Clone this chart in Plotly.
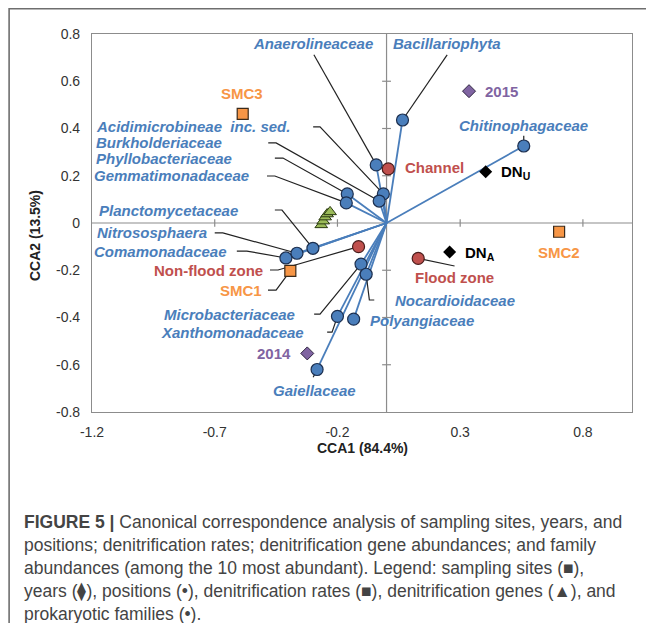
import plotly.graph_objects as go

# ---------------- data ----------------
families = ["Anaerolineaceae", "Bacillariophyta", "Chitinophagaceae",
            "Acidimicrobineae  inc. sed.", "Burkholderiaceae", "Phyllobacteriaceae",
            "Gemmatimonadaceae", "Planctomycetaceae", "Nitrososphaera",
            "Comamonadaceae", "Microbacteriaceae", "Xanthomonadaceae",
            "Nocardioidaceae", "Polyangiaceae", "Gaiellaceae"]
fam_x = [-0.042, 0.065, 0.559, -0.013, -0.030, -0.160, -0.164, -0.300, -0.365,
         -0.410, -0.104, -0.200, -0.083, -0.134, -0.283]
fam_y = [0.246, 0.436, 0.326, 0.123, 0.093, 0.123, 0.085, -0.107, -0.128,
         -0.148, -0.174, -0.395, -0.217, -0.407, -0.620]

sites = ["SMC1", "SMC2", "SMC3"]
site_x = [-0.392, 0.703, -0.586]
site_y = [-0.203, -0.037, 0.462]

years = ["2014", "2015"]
year_x = [-0.323, 0.336]
year_y = [-0.552, 0.558]

positions = ["Channel", "Non-flood zone", "Flood zone"]
pos_x = [0.007, -0.114, 0.129]
pos_y = [0.229, -0.100, -0.150]

rates = ["DN<sub>U</sub>", "DN<sub>A</sub>"]
rate_x = [0.404, 0.257]
rate_y = [0.217, -0.123]

genes = ["gene 1", "gene 2", "gene 3", "gene 4", "gene 5"]
gene_x = [-0.266, -0.258, -0.250, -0.242, -0.230]
gene_y = [-0.008, 0.008, 0.025, 0.038, 0.047]

x_ticks = [-1.2, -0.7, -0.2, 0.3, 0.8]
y_ticks = [-0.8, -0.6, -0.4, -0.2, 0, 0.2, 0.4, 0.6, 0.8]

x_title = "CCA1 (84.4%)"
y_title = "CCA2 (13.5%)"

caption_lines = [
    "<b>FIGURE 5 |</b> Canonical correspondence analysis of sampling sites, years, and",
    "positions; denitrification rates; denitrification gene abundances; and family",
    "abundances (among the 10 most abundant). Legend: sampling sites (\u25a0),",
    "years (\u29eb), positions (\u2022), denitrification rates (\u25a0), denitrification genes (\u25b2), and",
    "prokaryotic families (\u2022).",
]

# ---------------- label layout (text position, anchor, leader elbows) ----------------
fam_labels = {
    "Anaerolineaceae": (-0.300, 0.758, "center", [(-0.296, 0.712)]),
    "Bacillariophyta": (0.248, 0.758, "center", [(0.247, 0.712)]),
    "Chitinophagaceae": (0.559, 0.411, "center", [(0.559, 0.369)]),
    "Acidimicrobineae  inc. sed.": (-0.385, 0.407, "right", [(-0.299, 0.407), (-0.271, 0.407)]),
    "Burkholderiaceae": (-0.663, 0.339, "right", [(-0.482, 0.339), (-0.450, 0.339)]),
    "Phyllobacteriaceae": (-0.622, 0.271, "right", [(-0.455, 0.275), (-0.422, 0.275)]),
    "Gemmatimonadaceae": (-0.552, 0.199, "right", [(-0.487, 0.199), (-0.455, 0.199)]),
    "Planctomycetaceae": (-0.597, 0.051, "right", [(-0.455, 0.055), (-0.426, 0.055)]),
    "Nitrososphaera": (-0.724, -0.042, "right", [(-0.700, -0.042), (-0.667, -0.042)]),
    "Comamonadaceae": (-0.642, -0.119, "right", [(-0.610, -0.119), (-0.569, -0.119)]),
    "Microbacteriaceae": (-0.365, -0.386, "right", [(-0.295, -0.386), (-0.271, -0.386)]),
    "Xanthomonadaceae": (-0.328, -0.462, "right", [(-0.242, -0.462), (-0.222, -0.462)]),
    "Nocardioidaceae": (0.027, -0.326, "left", [(-0.050, -0.326), (-0.070, -0.326)]),
    "Polyangiaceae": (-0.074, -0.411, "left", []),
    "Gaiellaceae": (-0.295, -0.708, "center", [(-0.299, -0.653)]),
}
site_labels = {
    "SMC1": (-0.499, -0.284, "right", [(-0.483, -0.284), (-0.450, -0.284)]),
    "SMC2": (0.702, -0.123, "center", []),
    "SMC3": (-0.589, 0.547, "center", []),
}
year_labels = {
    "2014": (-0.381, -0.551, "right", []),
    "2015": (0.391, 0.555, "left", []),
}
pos_labels = {
    "Channel": (0.065, 0.233, "left", []),
    "Non-flood zone": (-0.495, -0.203, "right", [(-0.475, -0.199), (-0.442, -0.199)]),
    "Flood zone": (0.277, -0.229, "center", [(0.277, -0.182)]),
}
rate_labels = {
    "DN<sub>U</sub>": (0.460, 0.212, "left", []),
    "DN<sub>A</sub>": (0.313, -0.127, "left", []),
}

BLUE = "#4a7ebb"
RED = "#c0504d"
ORANGE = "#f79646"
PURPLE = "#8064a2"
GREEN = "#9bbb59"
FONT = "Liberation Sans, Arial, sans-serif"
LABEL_SIZE = 15

fig = go.Figure()

# vectors from origin to families
vx, vy = [], []
for x, y in zip(fam_x, fam_y):
    vx += [0, x, None]
    vy += [0, y, None]
fig.add_trace(go.Scatter(x=vx, y=vy, mode="lines", line=dict(color=BLUE, width=1.8),
                         hoverinfo="skip", showlegend=False))

# leader lines
def add_leaders(names, xs, ys, layout):
    lx, ly = [], []
    for n, x, y in zip(names, xs, ys):
        pts = layout[n][3]
        if not pts:
            continue
        for px, py in pts:
            lx.append(px)
            ly.append(py)
        lx += [x, None]
        ly += [y, None]
    fig.add_trace(go.Scatter(x=lx, y=ly, mode="lines", line=dict(color="#222", width=1.2),
                             hoverinfo="skip", showlegend=False))

add_leaders(families, fam_x, fam_y, fam_labels)
add_leaders(sites, site_x, site_y, site_labels)
add_leaders(positions, pos_x, pos_y, pos_labels)

# markers
fig.add_trace(go.Scatter(x=gene_x, y=gene_y, mode="markers", text=genes,
                         marker=dict(symbol="triangle-up", size=11, color=GREEN,
                                     line=dict(color="#2b3a12", width=1)),
                         showlegend=False))
fig.add_trace(go.Scatter(x=fam_x, y=fam_y, mode="markers", text=families,
                         marker=dict(symbol="circle", size=12, color=BLUE,
                                     line=dict(color="#1c2f4f", width=1.2)),
                         showlegend=False))
fig.add_trace(go.Scatter(x=pos_x, y=pos_y, mode="markers", text=positions,
                         marker=dict(symbol="circle", size=12, color=RED,
                                     line=dict(color="#4a1c1b", width=1.2)),
                         showlegend=False))
fig.add_trace(go.Scatter(x=site_x, y=site_y, mode="markers", text=sites,
                         marker=dict(symbol="square", size=11, color=ORANGE,
                                     line=dict(color="#3a2a1a", width=1.2)),
                         showlegend=False))
fig.add_trace(go.Scatter(x=year_x, y=year_y, mode="markers", text=years,
                         marker=dict(symbol="diamond", size=10, color=PURPLE,
                                     line=dict(color="#2e2340", width=1)),
                         showlegend=False))
fig.add_trace(go.Scatter(x=rate_x, y=rate_y, mode="markers", text=rates,
                         marker=dict(symbol="diamond", size=10, color="#000"),
                         showlegend=False))

# text labels
def add_labels(names, layout, color, italic):
    for n in names:
        tx, ty, anchor, _ = layout[n]
        t = f"<b><i>{n}</i></b>" if italic else f"<b>{n}</b>"
        fig.add_annotation(x=tx, y=ty, text=t, showarrow=False, xanchor=anchor,
                           yanchor="middle", font=dict(family=FONT, size=LABEL_SIZE, color=color))

add_labels(families, fam_labels, BLUE, True)
add_labels(sites, site_labels, ORANGE, False)
add_labels(years, year_labels, PURPLE, False)
add_labels(positions, pos_labels, RED, False)
add_labels(rates, rate_labels, "#000", False)

# axis titles
fig.add_annotation(xref="paper", yref="paper", x=0.5, y=-0.095, text=f"<b>{x_title}</b>",
                   showarrow=False, xanchor="center", yanchor="middle",
                   font=dict(family=FONT, size=14, color="#222"))
fig.add_annotation(xref="paper", yref="paper", x=-0.1056, y=0.468, text=f"<b>{y_title}</b>",
                   showarrow=False, textangle=-90, xanchor="center", yanchor="middle",
                   font=dict(family=FONT, size=14, color="#222"))

# zero lines with cross tick marks
GRAY = "#8c8c8c"
shapes = [
    dict(type="line", x0=-1.2, x1=1.0, y0=0, y1=0, line=dict(color=GRAY, width=1.2), layer="below"),
    dict(type="line", x0=0, x1=0, y0=-0.8, y1=0.8, line=dict(color=GRAY, width=1.2), layer="below"),
]
for t in x_ticks[1:]:
    shapes.append(dict(type="line", x0=t, x1=t, y0=-0.016, y1=0.016,
                       line=dict(color=GRAY, width=1.2), layer="below"))
for t in y_ticks[1:-1]:
    if t == 0:
        continue
    shapes.append(dict(type="line", x0=-0.018, x1=0.018, y0=t, y1=t,
                       line=dict(color=GRAY, width=1.2), layer="below"))
# outer figure frame (left and top edges of the page frame)
shapes.append(dict(type="rect", xref="paper", yref="paper", x0=-0.1535, x1=1.3, y0=-1.0, y1=1.067,
                   line=dict(color="#6e6e6e", width=1.6), layer="below"))
for s in shapes:
    fig.add_shape(**s)

# caption
for i, line in enumerate(caption_lines):
    py = 522 + 23 * i
    fig.add_annotation(xref="paper", yref="paper", x=(22 - 92) / 540, y=(412 - py) / 378,
                       text=line, showarrow=False, xanchor="left", yanchor="middle",
                       font=dict(family=FONT, size=17.5, color="#444"))

fig.update_layout(
    width=646, height=615,
    margin=dict(l=84, r=22, t=26, b=211),
    paper_bgcolor="white", plot_bgcolor="white",
    font=dict(family=FONT),
    xaxis=dict(range=[-1.2, 1.0], tickvals=x_ticks, ticktext=[f"{v:g}" for v in x_ticks],
               showgrid=False, zeroline=False, showline=True, mirror=True,
               linecolor=GRAY, linewidth=1.2, ticks="", ticklabelstandoff=7,
               tickfont=dict(size=14, color="#333")),
    yaxis=dict(range=[-0.8, 0.8], tickvals=y_ticks, ticktext=[f"{v:g}" for v in y_ticks],
               showgrid=False, zeroline=False, showline=True, mirror=True,
               linecolor=GRAY, linewidth=1.2, ticks="", ticklabelstandoff=8,
               tickfont=dict(size=14, color="#333")),
)

fig.write_html("out.html")
